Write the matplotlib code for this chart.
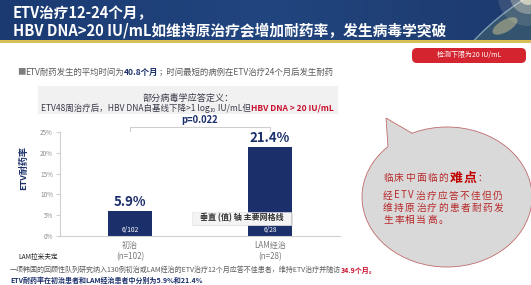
import numpy as np
import matplotlib.pyplot as plt
from matplotlib.patches import Rectangle, FancyBboxPatch, Ellipse, Circle, Polygon

plt.rcParams['font.family'] = ['Noto Sans CJK SC', 'DejaVu Sans']

# data
groups = ["初治", "LAM经治"]
group_n = ["(n=102)", "(n=28)"]
rates = [5.9, 21.4]
counts = ["6/102", "6/28"]
yticks = [0, 5, 10, 15, 20, 25]
p_text = "p=0.022"

NAVY = '#1b2f6b'
TXT = '#5a5a5a'
RED = '#c8102e'
BRED = '#b8282a'

W, H = 531, 285
fig = plt.figure(figsize=(W / 100, H / 100), dpi=100)
renderer = fig.canvas.get_renderer()

bg = fig.add_axes([0, 0, 1, 1])
bg.set_xlim(0, W)
bg.set_ylim(H, 0)
bg.axis('off')


def line(ax, x, y, parts, ha='left', width=None, track=0, zorder=5):
    # draw text pieces one after another, optionally scaled to a target width
    arts = []
    for txt, kw in parts:
        kw = dict(kw)
        dy = kw.pop('dy', 0)
        chunks = list(txt) if track else [txt]
        for ch in chunks:
            t = ax.text(0, y + dy, ch, va='center', ha='left', zorder=zorder, **kw)
            arts.append(t)
    ws = [a.get_window_extent(renderer).width + track for a in arts]
    if width is not None:
        k = width / sum(ws)
        for a in arts:
            a.set_fontsize(a.get_fontsize() * k)
        ws = [a.get_window_extent(renderer).width + track for a in arts]
    if ha == 'center':
        x = x - sum(ws) / 2
    for a, w in zip(arts, ws):
        a.set_x(x)
        x += w
    return arts


# header banner
grad = np.linspace(0, 1, 256)[None, :]
bg.imshow(grad, extent=[0, W, 41, 0], cmap=plt.matplotlib.colors.LinearSegmentedColormap.from_list(
    'b', ['#1b3a72', '#21457f', '#1d3a6c']), aspect='auto', zorder=1)
clip = Rectangle((0, 0), W, 41, transform=bg.transData)
earth = Circle((660, 215), 255, facecolor='#33536f', edgecolor='#7f9fb8', lw=1.0, zorder=2)
bg.add_patch(earth)
earth.set_clip_path(clip)
land = Ellipse((505, 26), 28, 12, angle=-30, facecolor='#b8b48c', alpha=0.6, zorder=3)
bg.add_patch(land)
land.set_clip_path(clip)
for r, a in [(30, 0.12), (18, 0.3), (9, 0.6)]:
    glow = Circle((528, -4), r, facecolor='#fff6d8', alpha=a, lw=0, zorder=3)
    bg.add_patch(glow)
    glow.set_clip_path(clip)
bg.add_patch(Rectangle((0, 40), W, 2.5, facecolor='#d9bf55', lw=0, zorder=3))

tkw = dict(color='white', fontweight='bold', fontsize=10.5)
line(bg, 13, 13, [("ETV治疗12-24个月，", tkw)])
line(bg, 13, 30, [("HBV DNA>20 IU/mL如维持原治疗会增加耐药率，发生病毒学突破", tkw)], width=434)

# red note box
bg.add_patch(FancyBboxPatch((412, 48), 114, 15, boxstyle='round,pad=0,rounding_size=5',
                            facecolor='#d3242f', edgecolor='none', zorder=3))
bg.text(469, 55.5, "检测下限为20 IU/mL", ha='center', va='center', fontsize=5,
        color='white', zorder=4)

# bullet line
gk = dict(color=TXT, fontsize=6.3)
line(bg, 17, 72, [("■", dict(color='#7f7f7f', fontsize=6.3)),
                  ("ETV耐药发生的平均时间为", gk),
                  ("40.8个月", dict(color=NAVY, fontsize=6.3, fontweight='bold')),
                  ("；时间最短的病例在ETV治疗24个月后发生耐药", gk)], width=318)

# definition box
bg.add_patch(Rectangle((38, 86), 300, 28, facecolor='#f1f1f1', edgecolor='none', zorder=2))
dk = dict(color='#3a3a4a', fontsize=6.6)
line(bg, 188, 98, [("部分病毒学应答定义：", dk)], ha='center')
line(bg, 41, 108.5, [("ETV48周治疗后，HBV DNA自基线下降>1 log", dk),
                     ("10", dict(color='#3a3a4a', fontsize=4.2, dy=1.8)),
                     (" IU/mL但", dk),
                     ("HBV DNA > 20 IU/mL", dict(color=RED, fontsize=6.6, fontweight='bold'))],
     width=292)

# chart
ax = fig.add_axes([60 / W, (H - 236) / H, 280 / W, 104 / H])
ax.patch.set_alpha(0)
xs = np.arange(len(groups))
ax.bar(xs, rates, width=0.31, color=NAVY, zorder=2)
ax.set_xlim(-0.5, 1.5)
ax.set_ylim(0, 25)
ax.set_yticks(yticks)
ax.set_yticklabels([f"{v}%" for v in yticks])
ax.set_xticks([])
for s in ['top', 'right']:
    ax.spines[s].set_visible(False)
for s in ['left', 'bottom']:
    ax.spines[s].set_color('#d0d0d0')
    ax.spines[s].set_linewidth(0.8)
ax.tick_params(axis='y', length=3, color='#d0d0d0', labelsize=4.6, labelcolor='#8a8a8a', pad=2)
ax.set_ylabel("ETV耐药率", fontsize=6.5, fontweight='bold', color=NAVY)
ax.yaxis.set_label_coords(-32 / 280, 0.65)

for xi, r, c, g, n in zip(xs, rates, counts, groups, group_n):
    ax.text(xi, r + 2.2, f"{r}%", ha='center', va='center', fontsize=9.5,
            fontweight='bold', color=NAVY)
    ax.text(xi, 1.4, c, ha='center', va='center', fontsize=4.8, color='white')
    ax.text(xi, -2.2, g, ha='center', va='center', fontsize=5.8, color='#7a7a7a', clip_on=False)
    ax.text(xi, -5.0, n, ha='center', va='center', fontsize=5.8, color='#7a7a7a', clip_on=False)

# significance bracket
ax.plot([xs[0], xs[0], xs[1], xs[1]], [25.3, 26.2, 26.2, 25.3], color='#cfcfcf', lw=0.8,
        clip_on=False)
ax.text(xs.mean(), 27.8, p_text, ha='center', va='center', fontsize=6.8,
        fontweight='bold', color=NAVY, clip_on=False)

# foreground layer
fg = fig.add_axes([0, 0, 1, 1])
fg.set_xlim(0, W)
fg.set_ylim(H, 0)
fg.axis('off')

# tooltip
fg.add_patch(Rectangle((194, 213), 99, 13, facecolor='#bdbdbd', alpha=0.5, lw=0, zorder=3))
fg.add_patch(Rectangle((192, 211.5), 99, 13, facecolor='#f4f4f4', edgecolor='#e0e0e0', lw=0.4,
                       zorder=4))
line(fg, 241.5, 218, [("垂直 (值) 轴 主要网格线", dict(color='#333333', fontsize=5.8,
                                                     fontweight='bold'))], ha='center')

# speech bubble
cx, cy, rx, ry = 447, 197, 85, 70
fg.add_patch(Ellipse((cx, cy), 2 * rx, 2 * ry, facecolor='#d9d9d9', edgecolor='#c06a6a',
                     lw=0.6, zorder=3))
tip = (386, 118)
px = [388, 412]
pts = [(p, cy - ry * np.sqrt(1 - ((p - cx) / rx) ** 2)) for p in px]
fg.add_patch(Polygon([tip, pts[0], (400, 165), pts[1]], closed=True, facecolor='#d9d9d9',
                     edgecolor='none', zorder=4))
for p in pts:
    fg.plot([tip[0], p[0]], [tip[1], p[1]], color='#c06a6a', lw=0.6, zorder=5,
            solid_capstyle='butt')

bk = dict(color=BRED, fontsize=7.0)
line(fg, 383, 178, [("临床中面临的", bk),
                    ("难点", dict(color='#c00000', fontsize=9.3, fontweight='bold')),
                    ("：", bk)], track=1.3)
line(fg, 383, 195.5, [("经ETV治疗应答不佳但仍", bk)], track=1.3)
line(fg, 383, 207.5, [("维持原治疗的患者耐药发", bk)], track=1.3)
line(fg, 383, 219.5, [("生率相当高。", bk)], track=1.3)

# footnotes
bg.text(18, 257, "LAM拉米夫定", ha='left', va='center', fontsize=4.8, color='#222222')
line(bg, 10, 270, [("一项韩国的回顾性队列研究纳入130例初治或LAM经治的ETV治疗12个月应答不佳患者，维持ETV治疗并随访",
                    dict(color=TXT, fontsize=5.2)),
                   ("34.9个月。", dict(color=RED, fontsize=5.2, fontweight='bold'))], width=370)
line(bg, 10, 280, [("ETV耐药率在初治患者和LAM经治患者中分别为5.9%和21.4%",
                    dict(color=NAVY, fontsize=5.3, fontweight='bold'))], width=193)

fig.savefig("out.png", dpi=100)
